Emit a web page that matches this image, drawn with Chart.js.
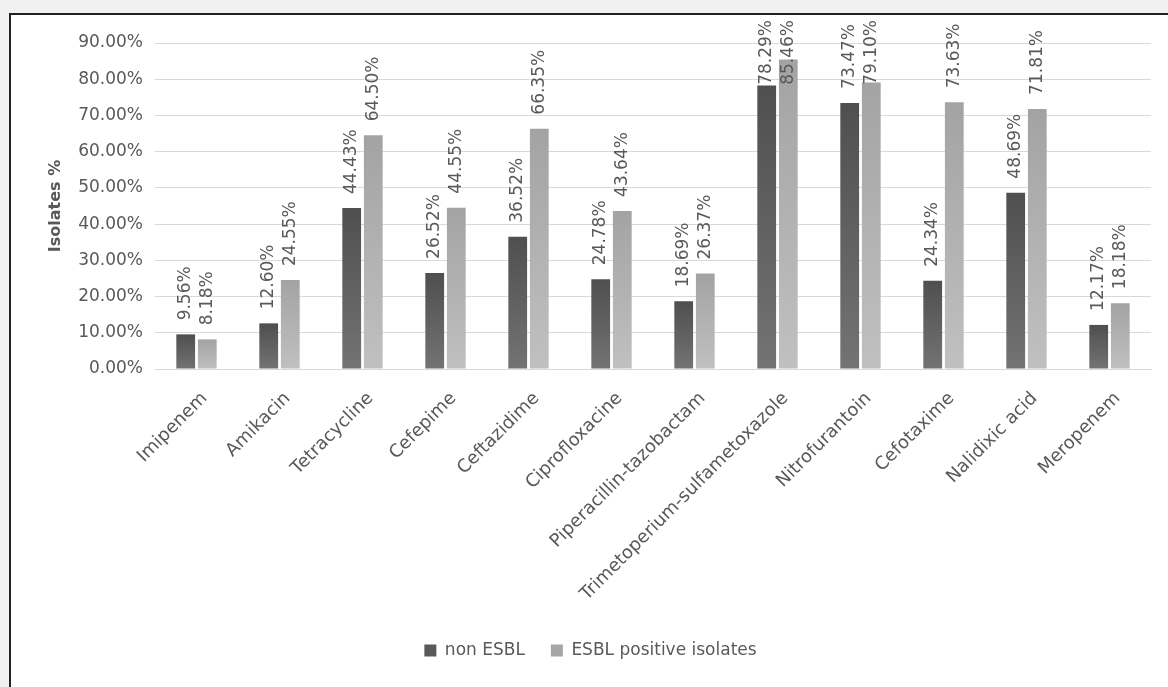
<!DOCTYPE html>
<html>
<head>
<meta charset="utf-8">
<script src="https://cdn.jsdelivr.net/npm/chart.js@4/dist/chart.umd.min.js"></script>
<style>
  html, body { margin: 0; padding: 0; background: #f0f0f0; }
  #frame {
    position: absolute; left: 9px; top: 13px; right: 0; bottom: 0;
    background: #fff; border-left: 2px solid #222; border-top: 2px solid #222;
  }
  #wrap { position: absolute; left: 0; top: 0; width: 1168px; height: 687px; }
</style>
</head>
<body>
<div id="frame"></div>
<div id="wrap"><canvas id="isolatesChart"></canvas></div>
<script>
// antibiotics on the x axis
const drugs = [
    'Imipenem', 'Amikacin', 'Tetracycline', 'Cefepime', 'Ceftazidime',
    'Ciprofloxacine', 'Piperacillin-tazobactam', 'Trimetoperium-sulfametoxazole',
    'Nitrofurantoin', 'Cefotaxime', 'Nalidixic acid', 'Meropenem'
];
const nonEsbl = [9.56, 12.60, 44.43, 26.52, 36.52, 24.78, 18.69, 78.29, 73.47, 24.34, 48.69, 12.17];
const esblPositive = [8.18, 24.55, 64.50, 44.55, 66.35, 43.64, 26.37, 85.46, 79.10, 73.63, 71.81, 18.18];
const yTicks = [0, 10, 20, 30, 40, 50, 60, 70, 80, 90];

const FONT = '"DejaVu Sans", sans-serif';
const TEXT = '#595959';
const legendColors = ['#595959', '#a6a6a6'];

// vertical gradient per bar, like the excel fill
function barFill(top, bottom) {
    return function(c) {
        const chart = c.chart;
        if (c.type !== 'data' || !chart.chartArea || !chart.scales.y) {
            return top;
        }
        const y = chart.scales.y;
        const g = chart.ctx.createLinearGradient(0, y.getPixelForValue(c.raw), 0, y.getPixelForValue(0));
        g.addColorStop(0, top);
        g.addColorStop(1, bottom);
        return g;
    };
}

// rotated value labels above every bar, kept inside the frame at the top
const valueLabels = {
    id: 'valueLabels',
    afterDatasetsDraw(chart) {
        const ctx = chart.ctx;
        ctx.save();
        ctx.font = '17px ' + FONT;
        ctx.fillStyle = TEXT;
        ctx.textAlign = 'left';
        ctx.textBaseline = 'middle';
        chart.data.datasets.forEach((ds, i) => {
            chart.getDatasetMeta(i).data.forEach((bar, j) => {
                const txt = ds.data[j].toFixed(2) + '%';
                const w = ctx.measureText(txt).width;
                let start = bar.y - 14;
                if (start - w < 20) {
                    start = 20 + w;
                }
                ctx.save();
                ctx.translate(bar.x, start);
                ctx.rotate(-Math.PI / 2);
                ctx.fillText(txt, 0, 0);
                ctx.restore();
            });
        });
        ctx.restore();
    }
};

new Chart(document.getElementById('isolatesChart'), {
    type: 'bar',
    data: {
        labels: drugs,
        datasets: [{
            label: 'non ESBL',
            data: nonEsbl,
            backgroundColor: barFill('#4f4f4f', '#737373'),
            categoryPercentage: 0.52,
            barPercentage: 0.87
        }, {
            label: 'ESBL positive isolates',
            data: esblPositive,
            backgroundColor: barFill('#a3a3a3', '#c0c0c0'),
            categoryPercentage: 0.52,
            barPercentage: 0.87
        }]
    },
    options: {
        responsive: true,
        maintainAspectRatio: false,
        animation: false,
        layout: { padding: { left: 30, right: 17, top: 43, bottom: 18 } },
        plugins: {
            tooltip: { enabled: false },
            legend: {
                position: 'bottom',
                labels: {
                    color: TEXT,
                    font: { family: FONT, size: 17 },
                    boxWidth: 12,
                    boxHeight: 12,
                    padding: 26,
                    generateLabels(chart) {
                        const items = Chart.defaults.plugins.legend.labels.generateLabels(chart);
                        items.forEach((it, i) => {
                            it.fillStyle = legendColors[i];
                            it.strokeStyle = legendColors[i];
                            it.lineWidth = 0;
                        });
                        return items;
                    }
                }
            }
        },
        scales: {
            x: {
                grid: { display: false },
                border: { display: true, color: '#d9d9d9' },
                ticks: {
                    color: TEXT,
                    font: { family: FONT, size: 18 },
                    minRotation: 45,
                    maxRotation: 45,
                    autoSkip: false,
                    padding: 11,
                    labelOffset: 8
                },
                afterFit(scale) { scale.height = 247; }
            },
            y: {
                min: 0,
                max: 90,
                afterBuildTicks(scale) { scale.ticks = yTicks.map(v => ({ value: v })); },
                grid: { color: '#d9d9d9', drawTicks: false },
                border: { display: false },
                ticks: {
                    color: TEXT,
                    font: { family: FONT, size: 17 },
                    padding: 12,
                    callback: v => v.toFixed(2) + '%'
                },
                title: {
                    display: true,
                    text: 'Isolates %',
                    color: TEXT,
                    font: { family: FONT, size: 16, weight: 'bold' },
                    padding: { top: 16, bottom: 0 }
                },
                afterFit(scale) { scale.width = 125; }
            }
        }
    },
    plugins: [valueLabels]
});
</script>
</body>
</html>
